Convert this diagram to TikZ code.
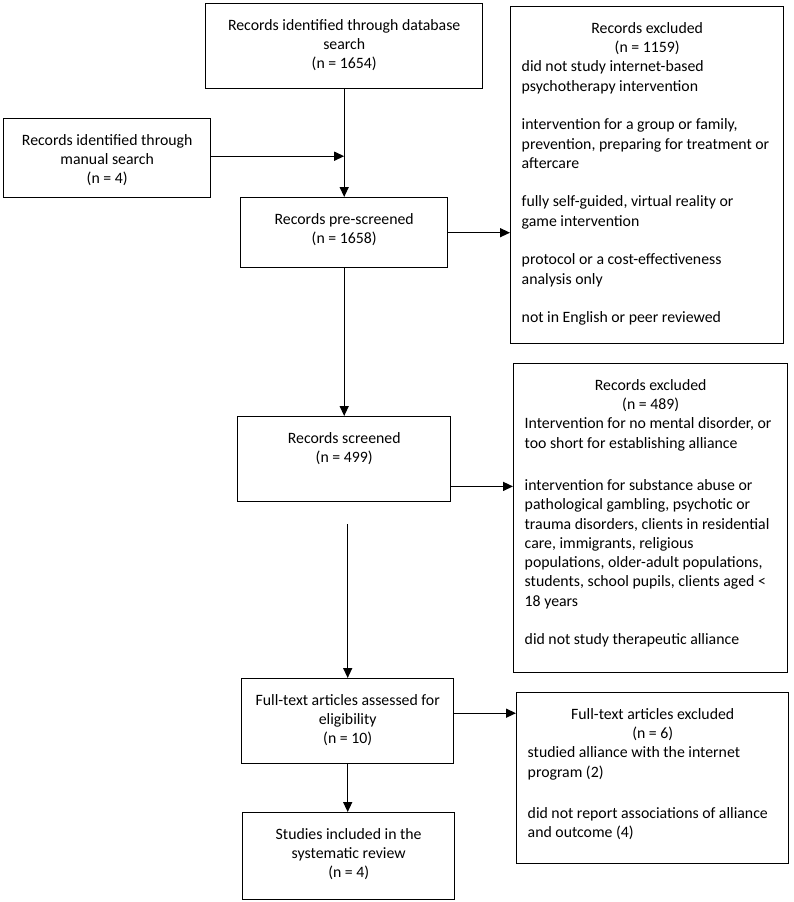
\documentclass[tikz,border=0pt]{standalone}
\usepackage{fontspec}
\setmainfont{Carlito}
\usetikzlibrary{arrows.meta}

\newcommand{\boxtxt}[3]{\parbox[c][#2pt][t]{#1pt}{#3}}
\newcommand{\firstline}{\rule{0pt}{26.5pt}}

\begin{document}
\begin{tikzpicture}[x=1pt, y=-1pt, font=\fontsize{15.8}{19.3}\selectfont,
  box/.style={draw, line width=1.4pt, anchor=north west, inner xsep=11pt, inner ysep=0pt},
  arr/.style={line width=1.4pt, -{Triangle[length=10pt, width=9pt]}}]
\useasboundingbox (0, 0) rectangle (793, 902);

% Main column
\node[box] (db) at (205, 3) {\boxtxt{255}{85}{\centering\firstline Records identified through database\\ search\\ (n = 1654)}};
\node[box] (manual) at (3, 118) {\boxtxt{185}{79}{\centering\firstline Records identified through\\ manual search\\ (n = 4)}};
\node[box] (pre) at (240, 197) {\boxtxt{185}{70}{\centering\firstline Records pre-screened\\ (n = 1658)}};
\node[box] (scr) at (237, 416) {\boxtxt{191}{85}{\centering\firstline Records screened\\ (n = 499)}};
\node[box] (full) at (241, 678) {\boxtxt{190}{85}{\centering\firstline Full-text articles assessed for\\ eligibility\\ (n = 10)}};
\node[box] (incl) at (242, 812) {\boxtxt{190}{87}{\centering\firstline Studies included in the\\ systematic review\\ (n = 4)}};

% Exclusions
\node[box] (excl1) at (510, 6) {\boxtxt{251}{337}{%
  {\centering\firstline Records excluded\\ (n = 1159)\par}\raggedright
  did not study internet-based\\ psychotherapy intervention\\[19.3pt]
  intervention for a group or family,\\ prevention, preparing for treatment or\\ aftercare\\[19.3pt]
  fully self-guided, virtual reality or\\ game intervention\\[19.3pt]
  protocol or a cost-effectiveness\\ analysis only\\[19.3pt]
  not in English or peer reviewed}};
\node[box] (excl2) at (513, 363) {\boxtxt{252}{309}{%
  {\centering\firstline Records excluded\\ (n = 489)\par}\raggedright
  Intervention for no mental disorder, or\\ too short for establishing alliance\\[23pt]
  intervention for substance abuse or\\ pathological gambling, psychotic or\\ trauma disorders, clients in residential\\
  care, immigrants, religious\\ populations, older-adult populations,\\ students, school pupils, clients aged <\\ 18 years\\[19.3pt]
  did not study therapeutic alliance}};
\node[box] (excl3) at (516, 692) {\boxtxt{250}{171}{%
  {\centering\firstline Full-text articles excluded\\ (n = 6)\par}\raggedright
  studied alliance with the internet\\ program (2)\\[22pt]
  did not report associations of alliance\\ and outcome (4)}};

% Connectors
\coordinate (join) at ([yshift=2pt]db.south |- manual.east);
\coordinate (scrout) at ([yshift=16pt]scr.south east);
\coordinate (fullout) at ([yshift=8pt]full.east);
\draw[arr] (db.south) -- (pre.north);
\draw[arr] (manual.east |- join) -- (join);
\draw[arr] (pre.east) -- (pre.east -| excl1.west);
\draw[arr] (pre.south) -- (scr.north);
\draw[arr] (scrout) -- (scrout -| excl2.west);
\draw[arr, shorten <=22pt] (full.north |- scr.south) -- (full.north);
\draw[arr] (fullout) -- (fullout -| excl3.west);
\draw[arr] (full.south) -- (full.south |- incl.north);
\end{tikzpicture}
\end{document}
